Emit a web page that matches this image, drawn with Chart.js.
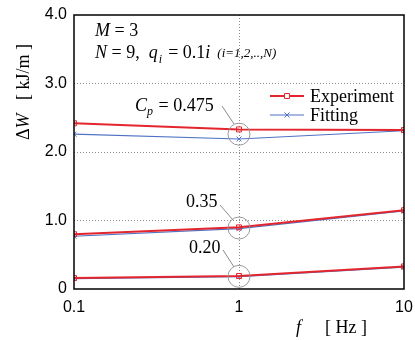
<!DOCTYPE html>
<html>
<head>
<meta charset="utf-8">
<script src="https://cdn.jsdelivr.net/npm/chart.js@4/dist/chart.umd.min.js"></script>
<style>
  html, body { margin: 0; padding: 0; background: #fff; }
  #wrap { width: 415px; height: 340px; }
</style>
</head>
<body>
<div id="wrap"><canvas id="chart" width="415" height="340"></canvas></div>
<script>
// frequencies f [Hz]
const freqs = [0.1, 1, 10];
const xTicks = [0.1, 1, 10];
const yTicks = [0, 1, 2, 3, 4];

// Delta W [kJ/m] per Cp group
const cpLabels = ["0.475", "0.35", "0.20"];
const exp475 = [2.42, 2.33, 2.32];
const fit475 = [2.26, 2.19, 2.31];
const exp35 = [0.80, 0.90, 1.15];
const fit35 = [0.77, 0.88, 1.14];
const exp20 = [0.16, 0.19, 0.33];
const fit20 = [0.15, 0.18, 0.32];

const RED = "#e3262e";
const BLUE = "#4f72c4";
const SERIF = "'Liberation Serif', 'DejaVu Serif', serif";
const SANS = "'Liberation Sans', Arial, sans-serif";

function pts(vals) {
  return freqs.map((f, i) => ({ x: f, y: vals[i] }));
}

function expSet(vals, label) {
  return {
    label: label, data: pts(vals),
    borderColor: RED, backgroundColor: "rgba(0,0,0,0)",
    borderWidth: 2, pointStyle: "rect", pointRadius: 3.5,
    pointBorderWidth: 1, pointBorderColor: RED, pointBackgroundColor: "rgba(0,0,0,0)"
  };
}
function fitSet(vals, label) {
  return {
    label: label, data: pts(vals),
    borderColor: BLUE, backgroundColor: "rgba(0,0,0,0)",
    borderWidth: 1.2, pointStyle: "crossRot", pointRadius: 3.5,
    pointBorderWidth: 1, pointBorderColor: BLUE
  };
}

// frame, circles, texts, legend, axis titles
const decor = {
  id: "decor",
  afterDatasetsDraw(chart) {
    const ctx = chart.ctx;
    const a = chart.chartArea;
    const xs = chart.scales.x, ys = chart.scales.y;
    ctx.save();

    // circles around f = 1 points
    const cx = xs.getPixelForValue(1);
    const centers = [(exp475[1] + fit475[1]) / 2, (exp35[1] + fit35[1]) / 2, (exp20[1] + fit20[1]) / 2];
    ctx.strokeStyle = "#9a9a9a";
    ctx.lineWidth = 1;
    centers.forEach(v => {
      ctx.beginPath();
      ctx.arc(cx, ys.getPixelForValue(v), 11, 0, Math.PI * 2);
      ctx.stroke();
    });

    // leader lines
    ctx.strokeStyle = "#8a8a8a";
    ctx.beginPath();
    ctx.moveTo(222, 106); ctx.lineTo(234, 124);
    ctx.moveTo(220, 205); ctx.lineTo(233, 220);
    ctx.moveTo(223, 250); ctx.lineTo(234, 267);
    ctx.stroke();

    // frame
    ctx.strokeStyle = "#000";
    ctx.lineWidth = 1.5;
    ctx.strokeRect(a.left, a.top, a.right - a.left, a.bottom - a.top);

    ctx.fillStyle = "#000";
    ctx.textBaseline = "alphabetic";
    ctx.textAlign = "left";

    // header text
    const it = "italic 18px " + SERIF, rm = "18px " + SERIF;
    let x = 95;
    ctx.font = it; ctx.fillText("M", x, 36); x += ctx.measureText("M").width;
    ctx.font = rm; ctx.fillText(" = 3", x, 36);

    x = 95;
    ctx.font = it; ctx.fillText("N", x, 58); x += ctx.measureText("N").width;
    ctx.font = rm; ctx.fillText(" = 9,  ", x, 58); x += ctx.measureText(" = 9,  ").width;
    ctx.font = it; ctx.fillText("q", x, 58); x += ctx.measureText("q").width;
    ctx.font = "italic 12px " + SERIF; ctx.fillText("i", x + 1, 63); x += 6;
    ctx.font = rm; ctx.fillText(" = 0.1", x, 58); x += ctx.measureText(" = 0.1").width;
    ctx.font = it; ctx.fillText("i", x, 58); x += ctx.measureText("i").width + 7;
    ctx.font = "italic 13px " + SERIF; ctx.fillText("(i=1,2,..,N)", x, 57);

    // Cp labels
    x = 135;
    ctx.font = it; ctx.fillText("C", x, 111); x += ctx.measureText("C").width;
    ctx.font = "italic 12px " + SERIF; ctx.fillText("p", x, 115); x += 7;
    ctx.font = rm; ctx.fillText(" = " + cpLabels[0], x, 111);
    ctx.fillText(cpLabels[1], 186, 207);
    ctx.fillText(cpLabels[2], 189, 253);

    // legend
    const lg = [["Experiment", RED, "rect", 2, 96], ["Fitting", BLUE, "crossRot", 1.2, 115]];
    lg.forEach(([t, c, s, w, y]) => {
      ctx.strokeStyle = c; ctx.lineWidth = w;
      ctx.beginPath(); ctx.moveTo(270, y); ctx.lineTo(304, y); ctx.stroke();
      ctx.lineWidth = 1;
      ctx.fillStyle = "#fff";
      Chart.helpers.drawPoint(ctx, { pointStyle: s, radius: 3.5, borderWidth: 1 }, 287, y);
      ctx.font = rm; ctx.fillStyle = "#000";
      ctx.fillText(t, 310, y + 6);
    });

    // y title (rotated)
    ctx.save();
    ctx.translate(29, 0);
    ctx.rotate(-Math.PI / 2);
    let yy = -140;
    ctx.font = rm; ctx.fillText("\u0394", yy, 0); yy += ctx.measureText("\u0394").width;
    ctx.font = it; ctx.fillText("W", yy, 0); yy += ctx.measureText("W").width;
    ctx.font = rm; ctx.fillText("   [ kJ/m ]", yy, 0);
    ctx.restore();

    // x title
    ctx.font = it; ctx.fillText("f", 296, 333);
    ctx.font = rm; ctx.fillText("[ Hz ]", 325, 333);

    ctx.restore();
  }
};

new Chart(document.getElementById("chart"), {
  type: "line",
  data: {
    datasets: [
      expSet(exp475, "Experiment"), fitSet(fit475, "Fitting"),
      expSet(exp35, "Experiment"), fitSet(fit35, "Fitting"),
      expSet(exp20, "Experiment"), fitSet(fit20, "Fitting")
    ]
  },
  options: {
    responsive: false,
    animation: false,
    layout: { padding: { top: 15, right: 11, left: 0, bottom: 0 } },
    plugins: { legend: { display: false }, tooltip: { enabled: false } },
    elements: { line: { tension: 0 } },
    scales: {
      x: {
        type: "logarithmic", min: 0.1, max: 10,
        afterBuildTicks: s => { s.ticks = xTicks.map(v => ({ value: v })); },
        afterFit: s => { s.height = 51; s.paddingLeft = 0; s.paddingRight = 0; },
        ticks: {
          color: "#000", font: { family: SANS, size: 16 }, padding: 9,
          maxRotation: 0, autoSkip: false,
          callback: v => String(v)
        },
        grid: {
          drawTicks: false,
          color: c => (c.tick && c.tick.value === 1) ? "#8c8c8c" : "rgba(0,0,0,0)",
          lineWidth: 1
        },
        border: { display: false, dash: [1, 2] }
      },
      y: {
        min: 0, max: 4,
        afterBuildTicks: s => { s.ticks = yTicks.map(v => ({ value: v })); },
        afterFit: s => { s.width = 74; s.paddingTop = 0; s.paddingBottom = 0; },
        ticks: {
          color: "#000", font: { family: SANS, size: 16 }, padding: 7,
          callback: v => v === 0 ? "0" : v.toFixed(1)
        },
        grid: {
          drawTicks: false,
          color: c => (c.tick && c.tick.value > 0 && c.tick.value < 4) ? "#8c8c8c" : "rgba(0,0,0,0)",
          lineWidth: 1
        },
        border: { display: false, dash: [1, 2] }
      }
    }
  },
  plugins: [decor]
});
</script>
</body>
</html>
